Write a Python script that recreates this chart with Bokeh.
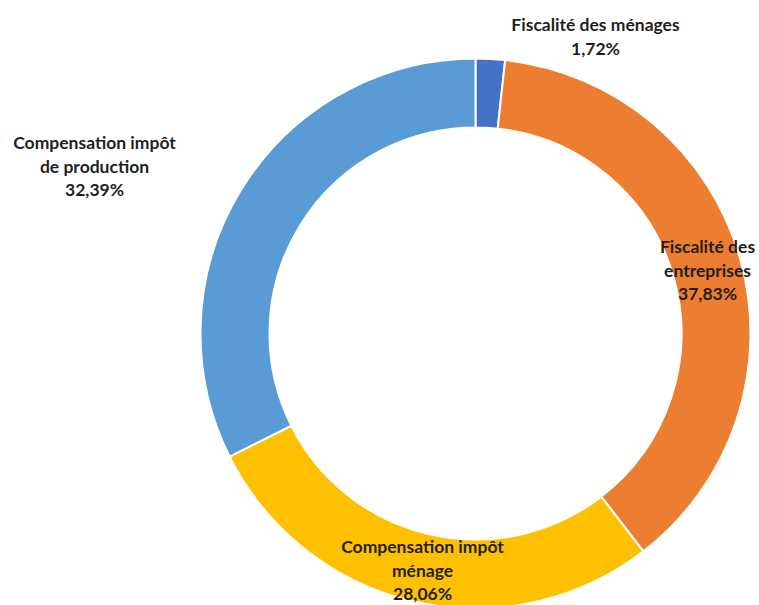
import math
from bokeh.plotting import figure
from bokeh.models import ColumnDataSource
from bokeh.core.properties import value
from bokeh.embed import file_html
from bokeh.resources import INLINE

categories = ["Fiscalité des ménages", "Fiscalité des entreprises",
              "Compensation impôt ménage", "Compensation impôt de production"]
values = [1.72, 37.83, 28.06, 32.39]
colors = ["#4472C4", "#ED7D31", "#FFC000", "#5B9BD5"]
label_lines = [["Fiscalité des ménages", "1,72%"],
               ["Fiscalité des", "entreprises", "37,83%"],
               ["Compensation impôt", "ménage", "28,06%"],
               ["Compensation impôt", "de production", "32,39%"]]

W, H = 759, 605
cx, cy = 475, H - 333
r_out, r_in = 275, 206

total = sum(values)
starts, ends = [], []
cum = 0.0
for v in values:
    a0 = math.pi / 2 - 2 * math.pi * (cum + v) / total
    a1 = math.pi / 2 - 2 * math.pi * cum / total
    starts.append(a0)
    ends.append(a1)
    cum += v

src = ColumnDataSource(dict(start=starts, end=ends, color=colors, cat=categories))

p = figure(width=W, height=H, x_range=(0, W), y_range=(0, H),
           output_backend="svg", toolbar_location=None, min_border=0)
p.axis.visible = False
p.grid.visible = False
p.outline_line_color = None
p.background_fill_color = "white"

p.annular_wedge(x=cx, y=cy, inner_radius=r_in, outer_radius=r_out,
                start_angle="start", end_angle="end", fill_color="color",
                line_color="white", line_width=2, source=src)

# label anchor (center of first line) in pixel coords from top-left
anchors = [(595, 24), (707, 246), (422, 546), (94, 142)]
lx, ly, lt = [], [], []
for (ax, ay), lines in zip(anchors, label_lines):
    for i, t in enumerate(lines):
        lx.append(ax)
        ly.append(H - (ay + 23.5 * i))
        lt.append(t)

p.text(x=lx, y=ly, text=lt, text_align="center", text_baseline="middle",
       text_font=value("Lato"), text_font_style="bold", text_font_size="17.5px",
       text_color="#1f1f1f")

open("out.html", "w").write(file_html(p, INLINE))
